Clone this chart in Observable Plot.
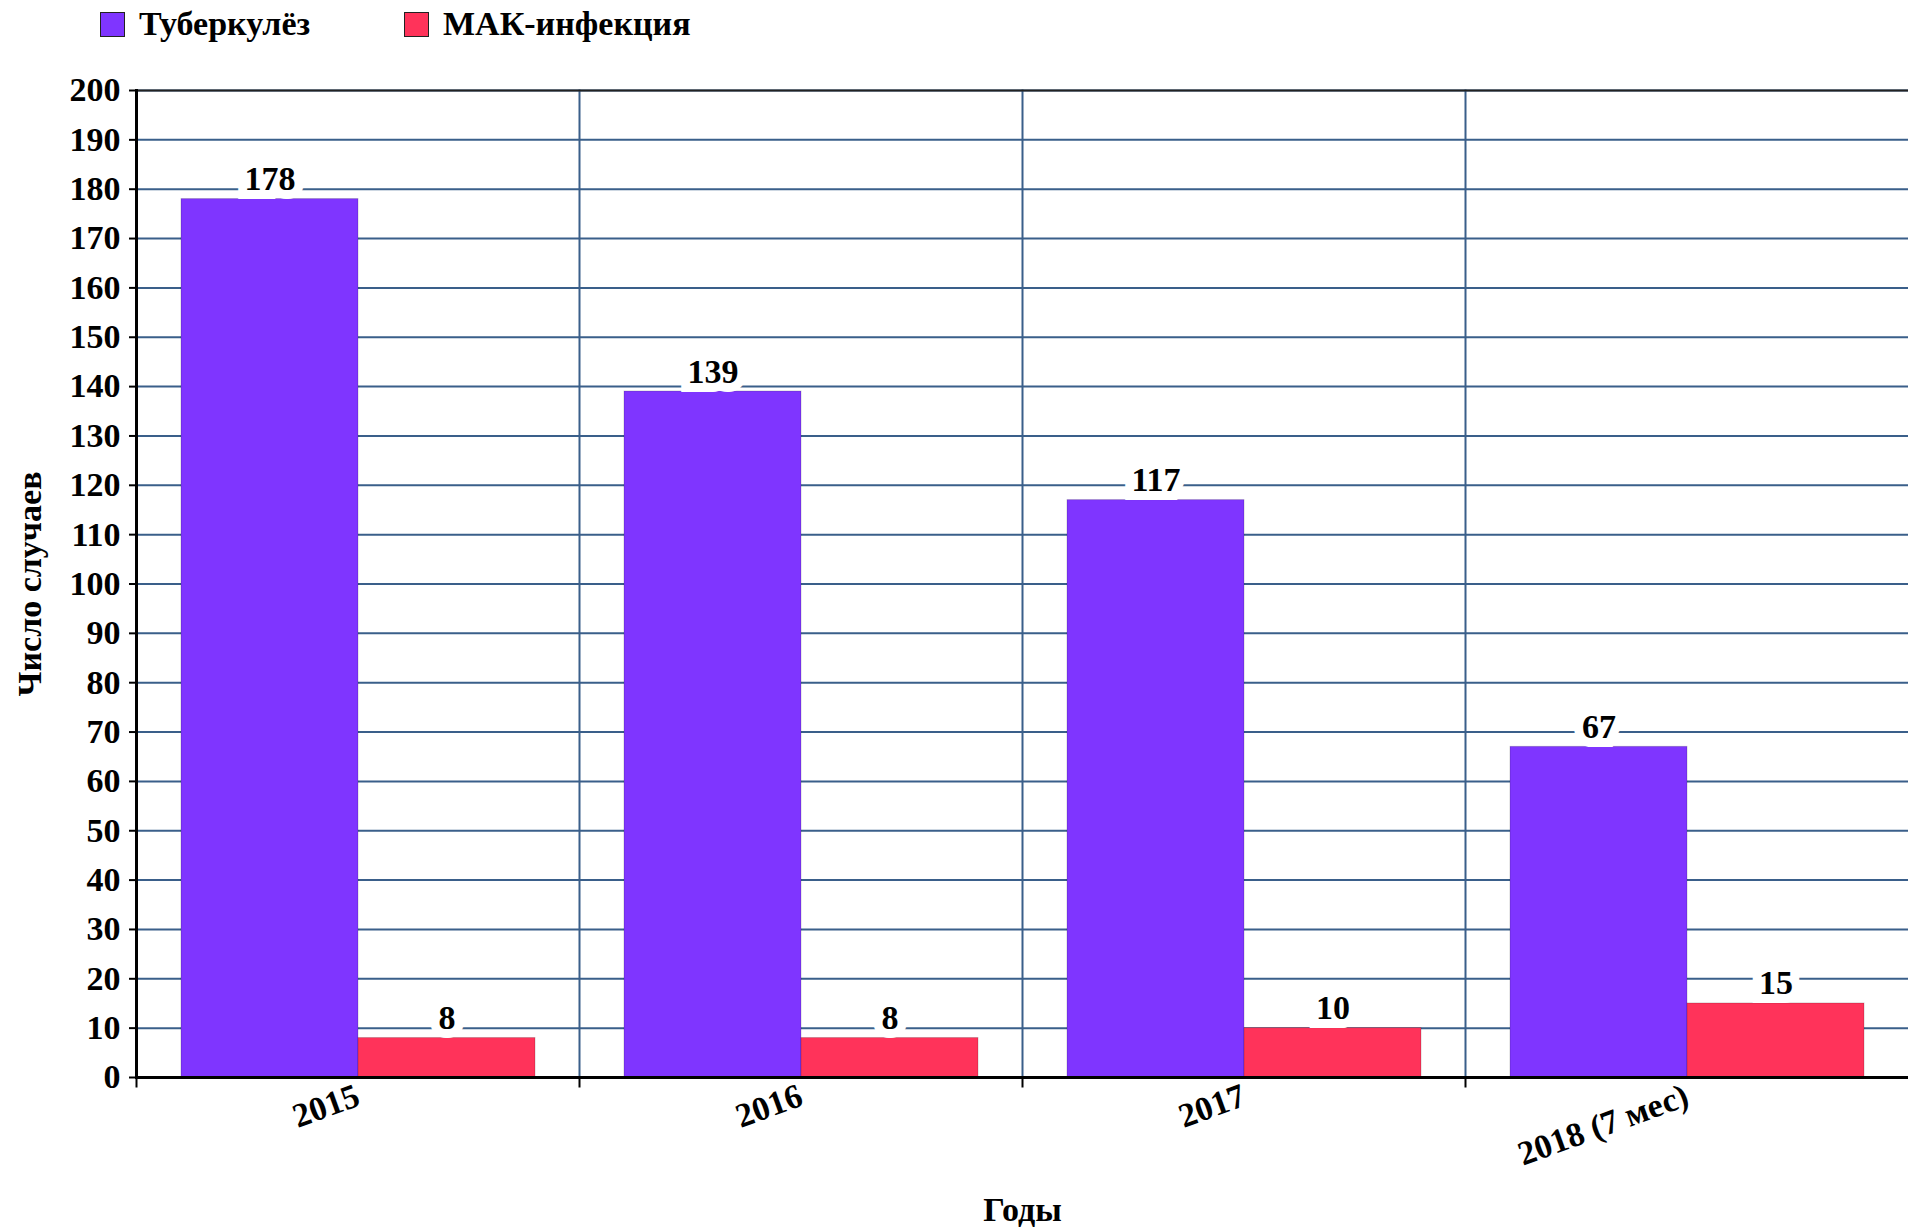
<!DOCTYPE html>
<html>
<head>
<meta charset="utf-8">
<script src="https://cdn.jsdelivr.net/npm/d3@7"></script>
<script src="https://cdn.jsdelivr.net/npm/@observablehq/plot@0.6"></script>
<style>
  html, body { margin: 0; padding: 0; background: white; }
  #legend { height: 50px; position: relative; font-family: "Liberation Serif", serif; font-weight: bold; font-size: 34px; color: black; }
  .item { position: absolute; top: 0; display: flex; align-items: center; height: 48px; }
  .sw { width: 23px; height: 23px; border: 1.5px solid #222; margin-right: 14px; }
</style>
</head>
<body>
<div id="legend"></div>
<div id="chart"></div>
<script>
const years = ["2015", "2016", "2017", "2018 (7 мес)"];
const series = ["Туберкулёз", "МАК-инфекция"];
const tuberculosis = [178, 139, 117, 67];
const macInfection = [8, 8, 10, 15];
const colors = ["#7F35FF", "#FF335A"];
const yTicks = [0, 10, 20, 30, 40, 50, 60, 70, 80, 90, 100, 110, 120, 130, 140, 150, 160, 170, 180, 190, 200];

const data = years.flatMap((y, i) => [
  {year: y, series: series[0], value: tuberculosis[i]},
  {year: y, series: series[1], value: macInfection[i]}
]);

const gridColor = "#3A5F8A";

// legend
const legend = document.getElementById("legend");
const legendX = [100, 404];
series.forEach((s, i) => {
  const it = document.createElement("div");
  it.className = "item";
  it.style.left = legendX[i] + "px";
  const sw = document.createElement("div");
  sw.className = "sw";
  sw.style.background = colors[i];
  const t = document.createElement("span");
  t.textContent = s;
  it.appendChild(sw); it.appendChild(t);
  legend.appendChild(it);
});

const chart = Plot.plot({
  width: 1909,
  height: 1177,
  marginTop: 40,
  marginLeft: 134,
  marginRight: 0,
  marginBottom: 150,
  style: {fontFamily: "Liberation Serif, serif", fontWeight: "bold", fontSize: "34px", color: "black", background: "white", overflow: "visible"},
  fx: {domain: years, padding: 0},
  x: {domain: series, axis: null, paddingInner: 0, paddingOuter: 0.25},
  y: {domain: [0, 200]},
  color: {domain: series, range: colors},
  marks: [
    Plot.gridY(yTicks, {stroke: gridColor, strokeOpacity: 1, strokeWidth: 2}),
    Plot.frame({anchor: "left", stroke: gridColor, strokeWidth: 2}),
    Plot.frame({anchor: "left", stroke: "black", strokeWidth: 2, insetTop: 987, insetBottom: -9}),
    Plot.barY(data, {fx: "year", x: "series", y: "value", fill: "series", stroke: "black", strokeOpacity: 0.18, strokeWidth: 1}),
    Plot.ruleY([200], {stroke: "#222", strokeWidth: 2}),
    Plot.ruleY([0], {stroke: "black", strokeWidth: 3}),
    Plot.frame({anchor: "left", stroke: "black", strokeWidth: 3, facetAnchor: "left"}),
    Plot.text(data, {fx: "year", x: "series", y: "value", text: d => String(d.value), lineAnchor: "bottom", dy: -9,
      fill: "black", stroke: "white", strokeWidth: 18, strokeLinejoin: "miter", fontSize: 34, fontWeight: "bold"}),
    Plot.axisY(yTicks, {anchor: "left", tickSize: 7, tickPadding: 9, stroke: "black", strokeWidth: 2,
      label: "Число случаев", labelArrow: "none", labelAnchor: "center", labelOffset: 120, fontSize: 34, fontWeight: "bold"}),
    Plot.axisFx({anchor: "bottom", tickRotate: -20, tickSize: 0, tickPadding: 17,
      label: "Годы", labelArrow: "none", labelAnchor: "center", labelOffset: 143, fontSize: 34, fontWeight: "bold"})
  ]
});
document.getElementById("chart").appendChild(chart);
</script>
</body>
</html>
